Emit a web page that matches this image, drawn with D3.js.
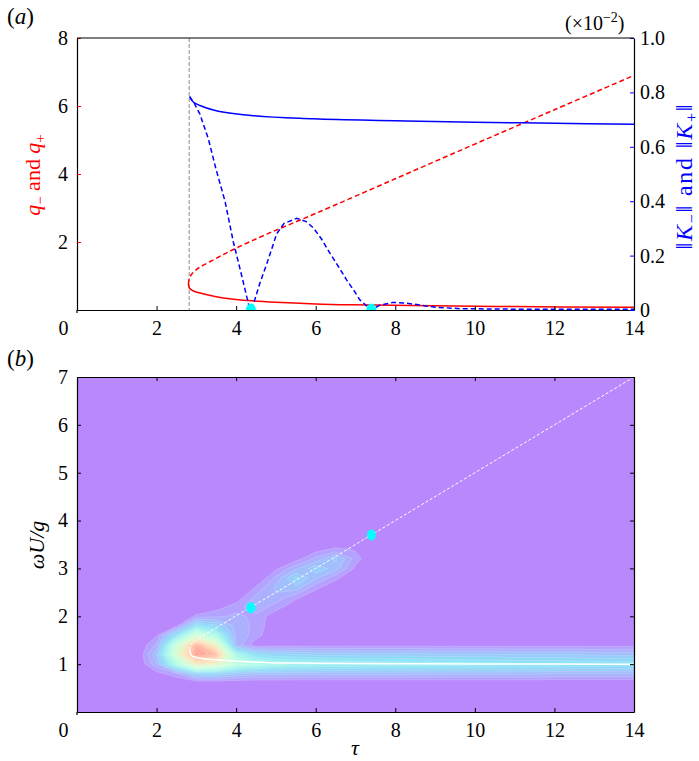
<!DOCTYPE html>
<html>
<head>
<meta charset="utf-8">
<script src="https://cdn.jsdelivr.net/npm/d3@7"></script>
<style>
  body { margin: 0; background: #fff; }
  svg { display: block; }
  text { font-family: "Liberation Serif", "Times New Roman", serif; fill: #000; }
</style>
</head>
<body>
<svg id="chart" width="699" height="761"></svg>
<script>
// ---------- values ----------
const tauTicks = [0, 2, 4, 6, 8, 10, 12, 14];
const qTicks = [2, 4, 6, 8];
const kTicks = [0, 0.2, 0.4, 0.6, 0.8, 1.0];
const omegaTicks = [1, 2, 3, 4, 5, 6, 7];
const tauTurn = 2.82;

// q- (solid red) and q+ (dashed red), panel (a)
const qMinusTau = [2.80, 2.81, 2.83, 2.87, 2.93, 3.0, 3.09, 3.3, 3.6, 4.0, 4.4, 5.0, 6.0, 6.9, 8.45, 11, 14];
const qMinusVal = [0.76, 0.69, 0.64, 0.60, 0.56, 0.53, 0.50, 0.44, 0.37, 0.31, 0.27, 0.23, 0.18, 0.155, 0.13, 0.10, 0.08];
const qPlusTau = [2.80, 2.81, 2.84, 2.9, 3.0, 3.09, 3.34, 3.93, 4.77, 6.0, 8, 10, 12, 14];
const qPlusVal = [0.76, 0.86, 0.97, 1.08, 1.19, 1.26, 1.42, 1.78, 2.23, 2.84, 3.86, 4.88, 5.89, 6.9];

// ||K|| branches (blue), right axis, x1e-2
const kSolidTau = [2.84, 2.9, 3.0, 3.09, 3.43, 4.26, 5.94, 8, 10, 11.2, 14];
const kSolidVal = [0.783, 0.768, 0.758, 0.752, 0.735, 0.717, 0.703, 0.696, 0.690, 0.688, 0.683];
const kDashTau = [2.83, 2.87, 2.93, 3.0, 3.09, 3.3, 3.49, 3.72, 3.93, 4.15, 4.33, 4.37, 4.43, 4.6, 4.77, 5.02, 5.2, 5.52, 5.75, 5.94, 6.15, 6.36, 6.57, 6.78, 7.0, 7.11, 7.32, 7.40, 7.61, 7.95, 8.2, 8.45, 8.75, 9.04, 9.62, 11, 14];
const kDashVal = [0.785, 0.775, 0.765, 0.745, 0.72, 0.63, 0.52, 0.40, 0.25, 0.12, 0.01, 0.0, 0.02, 0.10, 0.17, 0.28, 0.318, 0.337, 0.326, 0.302, 0.26, 0.208, 0.16, 0.11, 0.063, 0.037, 0.01, 0.0, 0.018, 0.028, 0.026, 0.022, 0.015, 0.01, 0.005, 0.003, 0.003];

// zero points marked in cyan
const markTau = [4.37, 7.40];
const markOmega = [2.18, 3.70];

// white curves, panel (b)
const wMinusTau = [2.83, 2.84, 2.87, 2.92, 3.0, 3.13, 3.5, 3.84, 4.85, 6, 8, 10, 14];
const wMinusVal = [1.30, 1.24, 1.19, 1.16, 1.14, 1.12, 1.09, 1.07, 1.03, 1.02, 1.01, 1.005, 1.0];
const wPlusTau = [2.83, 2.84, 2.87, 2.92, 3.0, 3.26, 3.5, 4.0, 4.37, 5, 6, 7.4, 10, 14];
const wPlusVal = [1.30, 1.36, 1.41, 1.46, 1.51, 1.64, 1.76, 2.01, 2.19, 2.5, 3.0, 3.7, 5.0, 7.0];

// contour field, panel (b): columns tau = 1.5 ... 14 (step 0.5), rows by omega
const fieldTau = d3.range(1.5, 14.01, 0.5);
const fieldOmega = [0.8, 1.0, 1.2, 1.4, 1.6, 1.8, 2.0, 2.2, 2.4, 2.6, 2.8, 3.0, 3.2, 3.4];
const intensity = [
  [0, 0.03, 0.08, 0.22, 0.22, 0.17, 0.15, 0.15, 0.14, 0.14, 0.14, 0.14, 0.14, 0.14, 0.14, 0.14, 0.14, 0.14, 0.14, 0.14, 0.14, 0.13, 0.13, 0.13, 0.13, 0.13],
  [0, 0.12, 0.42, 0.70, 0.66, 0.48, 0.42, 0.38, 0.36, 0.35, 0.34, 0.34, 0.33, 0.33, 0.32, 0.32, 0.32, 0.31, 0.31, 0.30, 0.30, 0.30, 0.29, 0.29, 0.28, 0.28],
  [0, 0.16, 0.58, 0.95, 0.85, 0.38, 0.25, 0.22, 0.21, 0.20, 0.20, 0.19, 0.19, 0.19, 0.19, 0.18, 0.18, 0.18, 0.18, 0.17, 0.17, 0.17, 0.17, 0.16, 0.16, 0.16],
  [0, 0.10, 0.52, 0.88, 0.66, 0.12, 0.02, 0.03, 0.03, 0.03, 0.03, 0.03, 0.03, 0.03, 0.03, 0.03, 0.03, 0.03, 0.03, 0.03, 0.03, 0.03, 0.03, 0.03, 0.03, 0.03],
  [0, 0.045, 0.28, 0.56, 0.40, 0.12, 0.07, 0, 0, 0, 0, 0, 0, 0, 0, 0, 0, 0, 0, 0, 0, 0, 0, 0, 0, 0],
  [0, 0.02, 0.04, 0.28, 0.22, 0.11, 0.08, 0.01, 0, 0, 0, 0, 0, 0, 0, 0, 0, 0, 0, 0, 0, 0, 0, 0, 0, 0],
  [0, 0, 0, 0.06, 0.08, 0.10, 0.08, 0.02, 0, 0, 0, 0, 0, 0, 0, 0, 0, 0, 0, 0, 0, 0, 0, 0, 0, 0],
  [0, 0, 0, 0, 0.03, 0.07, 0.12, 0.07, 0.02, 0, 0, 0, 0, 0, 0, 0, 0, 0, 0, 0, 0, 0, 0, 0, 0, 0],
  [0, 0, 0, 0, 0, 0.02, 0.10, 0.12, 0.06, 0.02, 0, 0, 0, 0, 0, 0, 0, 0, 0, 0, 0, 0, 0, 0, 0, 0],
  [0, 0, 0, 0, 0, 0, 0.055, 0.14, 0.16, 0.06, 0.02, 0, 0, 0, 0, 0, 0, 0, 0, 0, 0, 0, 0, 0, 0, 0],
  [0, 0, 0, 0, 0, 0, 0, 0.10, 0.22, 0.14, 0.06, 0.01, 0, 0, 0, 0, 0, 0, 0, 0, 0, 0, 0, 0, 0, 0],
  [0, 0, 0, 0, 0, 0, 0, 0.04, 0.12, 0.20, 0.15, 0.04, 0, 0, 0, 0, 0, 0, 0, 0, 0, 0, 0, 0, 0, 0],
  [0, 0, 0, 0, 0, 0, 0, 0, 0.03, 0.10, 0.18, 0.07, 0, 0, 0, 0, 0, 0, 0, 0, 0, 0, 0, 0, 0, 0],
  [0, 0, 0, 0, 0, 0, 0, 0, 0, 0.03, 0.06, 0.045, 0, 0, 0, 0, 0, 0, 0, 0, 0, 0, 0, 0, 0, 0]
];
const levels = d3.range(0.05, 1.0, 0.04);

// ---------- layout ----------
const svg = d3.select("#chart");
const pa = { left: 77, right: 634, top: 38, bottom: 310 };
const pb = { left: 77, right: 634, top: 377, bottom: 712 };

const xa = d3.scaleLinear().domain([0, 14]).range([pa.left, pa.right]);
const ya = d3.scaleLinear().domain([0, 8]).range([pa.bottom, pa.top]);
const ka = d3.scaleLinear().domain([0, 1]).range([pa.bottom, pa.top]);
const xb = d3.scaleLinear().domain([0, 14]).range([pb.left, pb.right]);
const yb = d3.scaleLinear().domain([0, 7]).range([pb.bottom, pb.top]);

const defs = svg.append("defs");
[["clipA", pa], ["clipB", pb]].forEach(([id, p]) => {
  defs.append("clipPath").attr("id", id).append("rect")
    .attr("x", p.left).attr("y", p.top)
    .attr("width", p.right - p.left).attr("height", p.bottom - p.top);
});

function zipPts(xs, ys) { return xs.map((x, i) => [x, ys[i]]); }

// ---------- panel (a) ----------
const ga = svg.append("g").attr("clip-path", "url(#clipA)");

ga.append("line")
  .attr("x1", xa(tauTurn)).attr("x2", xa(tauTurn))
  .attr("y1", pa.top).attr("y2", pa.bottom)
  .attr("stroke", "#8c8c8c").attr("stroke-width", 1).attr("stroke-dasharray", "4,2");

const lineQ = d3.line().x(d => xa(d[0])).y(d => ya(d[1])).curve(d3.curveCatmullRom.alpha(0.5));
const lineK = d3.line().x(d => xa(d[0])).y(d => ka(d[1]));

ga.append("path").datum(zipPts(qMinusTau, qMinusVal)).attr("d", lineQ)
  .attr("fill", "none").attr("stroke", "#ff0000").attr("stroke-width", 1.5);
ga.append("path").datum(zipPts(qPlusTau, qPlusVal)).attr("d", lineQ)
  .attr("fill", "none").attr("stroke", "#ff0000").attr("stroke-width", 1.5)
  .attr("stroke-dasharray", "5,3");
ga.append("path").datum(zipPts(kSolidTau, kSolidVal)).attr("d", lineK.curve(d3.curveMonotoneX))
  .attr("fill", "none").attr("stroke", "#0000ff").attr("stroke-width", 1.5);
ga.append("path").datum(zipPts(kDashTau, kDashVal)).attr("d", lineK.curve(d3.curveLinear))
  .attr("fill", "none").attr("stroke", "#0000ff").attr("stroke-width", 1.5)
  .attr("stroke-dasharray", "5,3");

ga.selectAll("ellipse.mk").data(markTau).enter().append("ellipse")
  .attr("cx", d => xa(d)).attr("cy", ka(0)).attr("rx", 5).attr("ry", 6.5)
  .attr("fill", "#00ffff");

// axes of (a)
const axA = svg.append("g");
axA.append("g").attr("transform", `translate(0,${pa.bottom})`).attr("class", "xaxis")
  .call(d3.axisBottom(xa).tickValues(tauTicks).tickSizeInner(-4).tickSizeOuter(0).tickPadding(11)
    .tickFormat(d3.format("d")));
axA.append("g").attr("transform", `translate(${pa.left},0)`)
  .call(d3.axisLeft(ya).tickValues(qTicks).tickSizeInner(-4).tickSizeOuter(0).tickPadding(9)
    .tickFormat(d3.format("d")))
  .call(g => g.selectAll(".tick line").attr("stroke", "#ff0000"));
axA.append("g").attr("transform", `translate(${pa.right},0)`)
  .call(d3.axisRight(ka).tickValues(kTicks).tickSizeInner(-4).tickSizeOuter(0).tickPadding(6)
    .tickFormat(d => d === 0 ? "0" : d3.format(".1f")(d)))
  .call(g => g.selectAll(".tick line").attr("stroke", "#0000ff"));
axA.append("line").attr("x1", pa.left).attr("x2", pa.right).attr("y1", pa.top).attr("y2", pa.top)
  .attr("stroke", "#000").attr("stroke-width", 1.2);

// ---------- panel (b) ----------
const nx = 29, ny = 36, dTau = 0.5, dOm = 0.2;
const grid = new Array(nx * ny).fill(0);
intensity.forEach((row, r) => {
  const j = Math.round(fieldOmega[r] / dOm);
  row.forEach((v, c) => {
    const i = Math.round(fieldTau[c] / dTau);
    grid[j * nx + i] = v;
  });
});

function rainbow(t) {
  const r = Math.min(1, Math.abs(2 * t - 0.5));
  const g = Math.sin(Math.PI * t);
  const b = Math.cos(Math.PI * t / 2);
  return d3.rgb(r * 255, g * 255, b * 255);
}
const fillFor = t => d3.interpolateRgb("#ffffff", rainbow(t))(0.46);

const gb = svg.append("g").attr("clip-path", "url(#clipB)");
gb.append("rect").attr("x", pb.left).attr("y", pb.top)
  .attr("width", pb.right - pb.left).attr("height", pb.bottom - pb.top)
  .attr("fill", "#b888fc");

const proj = d3.geoTransform({
  point(x, y) { this.stream.point(xb((x - 0.5) * dTau), yb((y - 0.5) * dOm)); }
});
const pathB = d3.geoPath(proj);
const bands = d3.contours().size([nx, ny]).thresholds(levels)(grid);
gb.selectAll("path.band").data(bands).enter().append("path")
  .attr("d", pathB)
  .attr("fill", d => fillFor(Math.min(1, d.value + 0.02)))
  .attr("stroke", "#ffffff").attr("stroke-opacity", 0.3).attr("stroke-width", 0.6);

const lineW = d3.line().x(d => xb(d[0])).y(d => yb(d[1])).curve(d3.curveCatmullRom.alpha(0.5));
gb.append("path").datum(zipPts(wMinusTau, wMinusVal)).attr("d", lineW)
  .attr("fill", "none").attr("stroke", "#ffffff").attr("stroke-width", 1.5);
gb.append("path").datum(zipPts(wPlusTau, wPlusVal)).attr("d", lineW)
  .attr("fill", "none").attr("stroke", "#ffffff").attr("stroke-width", 1)
  .attr("stroke-dasharray", "3,2");

gb.selectAll("ellipse.mk").data(markTau).enter().append("ellipse")
  .attr("cx", d => xb(d)).attr("cy", (d, i) => yb(markOmega[i])).attr("rx", 4.5).attr("ry", 5.5)
  .attr("fill", "#00ffff");

const axB = svg.append("g");
axB.append("g").attr("transform", `translate(0,${pb.bottom})`).attr("class", "xaxis")
  .call(d3.axisBottom(xb).tickValues(tauTicks).tickSizeInner(-4).tickSizeOuter(0).tickPadding(11)
    .tickFormat(d3.format("d")));
axB.append("g").attr("transform", `translate(0,${pb.top})`)
  .call(d3.axisTop(xb).tickValues(tauTicks).tickSizeInner(-4).tickSizeOuter(0).tickFormat(""));
axB.append("g").attr("transform", `translate(${pb.left},0)`)
  .call(d3.axisLeft(yb).tickValues(omegaTicks).tickSizeInner(-4).tickSizeOuter(0).tickPadding(9)
    .tickFormat(d3.format("d")));
axB.append("g").attr("transform", `translate(${pb.right},0)`)
  .call(d3.axisRight(yb).tickValues(omegaTicks).tickSizeInner(-4).tickSizeOuter(0).tickFormat(""));

// shared axis styling (d3 sets its own 10px sans-serif on each axis group)
svg.selectAll("g.tick").each(function () {
  d3.select(this.parentNode)
    .attr("font-size", 20)
    .attr("font-family", "Liberation Serif, Times New Roman, serif");
});
svg.selectAll(".domain").attr("stroke", "#000").attr("stroke-width", 1.2);
svg.selectAll(".tick text").attr("fill", "#000");
// the "0" of the tau axis sits left of the frame in the original
svg.selectAll("g.xaxis .tick text").filter(d => d === 0).attr("x", -14);
// left spines run a little below the frame
[pa, pb].forEach(p => {
  svg.append("line").attr("x1", p.left).attr("x2", p.left).attr("y1", p.bottom).attr("y2", p.bottom + 3)
    .attr("stroke", "#000").attr("stroke-width", 1.2);
});

// ---------- labels ----------
function panelTag(x, y, letter) {
  const t = svg.append("text").attr("x", x).attr("y", y).attr("font-size", 23);
  t.append("tspan").text("(");
  t.append("tspan").attr("font-style", "italic").text(letter);
  t.append("tspan").text(")");
}
panelTag(7, 24, "a");
panelTag(7, 366, "b");

const qLab = svg.append("text").attr("transform", "translate(40,175) rotate(-90)")
  .attr("text-anchor", "middle").attr("font-size", 22).style("fill", "#ff0000");
qLab.append("tspan").attr("font-style", "italic").style("fill", "#ff0000").text("q");
qLab.append("tspan").attr("font-size", 15).attr("dy", 5).style("fill", "#ff0000").text("\u2212");
qLab.append("tspan").attr("dy", -5).style("fill", "#ff0000").text(" and ");
qLab.append("tspan").attr("font-style", "italic").style("fill", "#ff0000").text("q");
qLab.append("tspan").attr("font-size", 15).attr("dy", 5).style("fill", "#ff0000").text("+");

const kLab = svg.append("text").attr("transform", "translate(692,177) rotate(-90)")
  .attr("text-anchor", "middle").attr("font-size", 24)
  .attr("textLength", 145).attr("lengthAdjust", "spacing")
  .style("fill", "#0000ff");
kLab.append("tspan").style("fill", "#0000ff").text("\u2016");
kLab.append("tspan").attr("font-style", "italic").style("fill", "#0000ff").text("K");
kLab.append("tspan").attr("font-size", 16).attr("dy", 5).style("fill", "#0000ff").text("\u2212");
kLab.append("tspan").attr("dy", -5).style("fill", "#0000ff").text("\u2016 and \u2016");
kLab.append("tspan").attr("font-style", "italic").style("fill", "#0000ff").text("K");
kLab.append("tspan").attr("font-size", 16).attr("dy", 5).style("fill", "#0000ff").text("+");
kLab.append("tspan").attr("dy", -5).style("fill", "#0000ff").text("\u2016");

const sc = svg.append("text").attr("x", 565).attr("y", 30).attr("font-size", 20);
sc.append("tspan").text("(\u00d710");
sc.append("tspan").attr("font-size", 14).attr("dy", -8).text("\u22122");
sc.append("tspan").attr("dy", 8).text(")");

svg.append("text").attr("transform", "translate(44,545) rotate(-90)")
  .attr("text-anchor", "middle").attr("font-size", 22).attr("font-style", "italic").text("\u03c9U/g");
svg.append("text").attr("x", 355).attr("y", 755)
  .attr("text-anchor", "middle").attr("font-size", 22).attr("font-style", "italic").text("\u03c4");
</script>
</body>
</html>
